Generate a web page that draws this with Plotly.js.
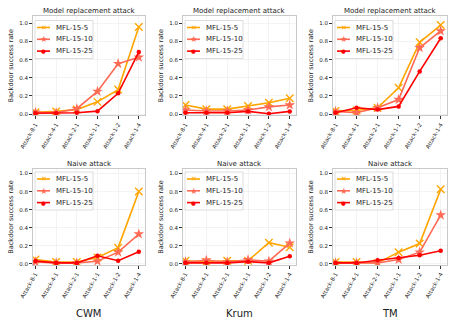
<!DOCTYPE html>
<html>
<head>
<meta charset="utf-8">
<script src="https://cdn.plot.ly/plotly-3.0.1.min.js"></script>
<style>
  body { margin: 0; padding: 0; background: #fff; }
  #myPlot { width: 458px; height: 327px; }
</style>
</head>
<body>
<div id="myPlot"></div>
<script>
// Categories and names
var attacks = ["Attack-8-1", "Attack-4-1", "Attack-2-1", "Attack-1-1", "Attack-1-2", "Attack-1-4"];
var seriesNames = ["MFL-15-5", "MFL-15-10", "MFL-15-25"];
var defenses = ["CWM", "Krum", "TM"];
var rowTitles = ["Model replacement attack", "Naive attack"];

// Model replacement attack
var cwmReplace5 = [0.02, 0.03, 0.05, 0.135, 0.27, 0.96];
var cwmReplace10 = [0.02, 0.015, 0.06, 0.25, 0.555, 0.625];
var cwmReplace25 = [0.01, 0.01, 0.015, 0.033, 0.23, 0.685];

var krumReplace5 = [0.10, 0.055, 0.055, 0.09, 0.125, 0.175];
var krumReplace10 = [0.045, 0.035, 0.035, 0.045, 0.08, 0.10];
var krumReplace25 = [0.015, 0.015, 0.015, 0.03, 0.005, 0.03];

var tmReplace5 = [0.035, 0.04, 0.07, 0.29, 0.79, 0.98];
var tmReplace10 = [0.03, 0.015, 0.07, 0.16, 0.73, 0.915];
var tmReplace25 = [0.015, 0.07, 0.05, 0.085, 0.47, 0.835];

// Naive attack
var cwmNaive5 = [0.048, 0.022, 0.022, 0.07, 0.18, 0.80];
var cwmNaive10 = [0.022, 0.011, 0.011, 0.03, 0.13, 0.33];
var cwmNaive25 = [0.033, 0.011, 0.011, 0.09, 0.035, 0.135];

var krumNaive5 = [0.035, 0.022, 0.035, 0.035, 0.235, 0.185];
var krumNaive10 = [0.022, 0.04, 0.022, 0.045, 0.03, 0.23];
var krumNaive25 = [0.012, 0.012, 0.012, 0.025, 0.012, 0.085];

var tmNaive5 = [0.02, 0.02, 0.011, 0.13, 0.225, 0.825];
var tmNaive10 = [0.011, 0.011, 0.011, 0.048, 0.13, 0.54];
var tmNaive25 = [0.011, 0.011, 0.04, 0.065, 0.095, 0.145];

var panels = [
    [cwmReplace5, cwmReplace10, cwmReplace25],
    [krumReplace5, krumReplace10, krumReplace25],
    [tmReplace5, tmReplace10, tmReplace25],
    [cwmNaive5, cwmNaive10, cwmNaive25],
    [krumNaive5, krumNaive10, krumNaive25],
    [tmNaive5, tmNaive10, tmNaive25]
];

var W = 458, H = 327;
var colors = ["#ffa500", "#ff6a55", "#ff0000"];
var markers = [
    { symbol: "x-thin-open", size: 7.5, line: { width: 1.4, color: colors[0] } },
    { symbol: "star", size: 8, line: { width: 0 } },
    { symbol: "circle", size: 4.5, line: { width: 0 } }
];
// glyphs used in the small legend boxes
var legendGlyphs = ["\u2715", "\u2605", "\u25CF"];
var legendGlyphSize = [7, 8.5, 5.5];

// panel boxes in pixels
var colX = [[33, 145], [183, 296], [333, 447]];
var rowY = [[16, 115.5], [169, 265]];
var legendTop = [20.5, 172];
var font = "DejaVu Sans, sans-serif";

function px(x) { return x / W; }
function py(y) { return 1 - y / H; }

var data = [];
var layout = {
    width: W, height: H,
    margin: { l: 0, r: 0, t: 0, b: 0 },
    paper_bgcolor: "#fff",
    plot_bgcolor: "#fff",
    font: { family: font, size: 6, color: "#222" },
    showlegend: false,
    annotations: [],
    shapes: []
};

for (var p = 0; p < 6; p++) {
    var row = Math.floor(p / 3), col = p % 3;
    var n = p + 1;
    var sfx = n === 1 ? "" : String(n);
    var xa = "x" + sfx, ya = "y" + sfx;
    for (var s = 0; s < 3; s++) {
        data.push({
            x: attacks, y: panels[p][s],
            xaxis: xa, yaxis: ya,
            name: seriesNames[s],
            mode: "lines+markers",
            line: { color: colors[s], width: 1.6 },
            marker: Object.assign({ color: colors[s] }, markers[s])
        });
    }
    var x0 = px(colX[col][0]), x1 = px(colX[col][1]);
    layout["xaxis" + sfx] = {
        domain: [x0, x1], anchor: ya, type: "category",
        range: [-0.12, 5.3],
        tickangle: -60, tickfont: { size: 5.5 },
        ticks: "outside", ticklen: 3, tickcolor: "#333",
        showgrid: true, gridcolor: "#ebebeb", gridwidth: 0.6,
        showline: true, linecolor: "#bbb", linewidth: 0.8, mirror: true,
        zeroline: false, automargin: false
    };
    layout["yaxis" + sfx] = {
        domain: [py(rowY[row][1]), py(rowY[row][0])], anchor: xa,
        range: row === 0 ? [-0.015, 1.08] : [-0.012, 1.05],
        tickvals: [0, 0.2, 0.4, 0.6, 0.8, 1.0], tickformat: ".1f",
        tickfont: { size: 5.5 },
        ticks: "outside", ticklen: 3, tickcolor: "#333",
        showgrid: true, gridcolor: "#ebebeb", gridwidth: 0.6,
        showline: true, linecolor: "#bbb", linewidth: 0.8, mirror: true,
        zeroline: false, automargin: false,
        title: { text: "Backdoor success rate", font: { size: 6.5 }, standoff: 4 }
    };
    layout.annotations.push({
        text: rowTitles[row], xref: "paper", yref: "paper",
        x: (x0 + x1) / 2, y: py(rowY[row][0] - 5.5),
        xanchor: "center", yanchor: "middle", showarrow: false,
        font: { size: 7, family: font, color: "#222" }
    });

    // legend box
    var lx = colX[col][0] + 2, ly = legendTop[row];
    layout.shapes.push({
        type: "rect", xref: "paper", yref: "paper",
        x0: px(lx), x1: px(lx + 58), y0: py(ly), y1: py(ly + 38),
        fillcolor: "rgba(255,255,255,0.85)",
        line: { color: "#d4d4d4", width: 0.8 }
    });
    for (var k = 0; k < 3; k++) {
        var ey = ly + 7 + k * 11.8;
        layout.shapes.push({
            type: "line", xref: "paper", yref: "paper",
            x0: px(lx + 2), x1: px(lx + 15), y0: py(ey), y1: py(ey),
            line: { color: colors[k], width: 1.6 }
        });
        layout.annotations.push({
            text: legendGlyphs[k], xref: "paper", yref: "paper",
            x: px(lx + 8.5), y: py(ey), xanchor: "center", yanchor: "middle",
            showarrow: false, font: { size: legendGlyphSize[k], family: font, color: colors[k] }
        });
        layout.annotations.push({
            text: seriesNames[k], xref: "paper", yref: "paper",
            x: px(lx + 19), y: py(ey), xanchor: "left", yanchor: "middle",
            showarrow: false, font: { size: 7, family: font, color: "#222" }
        });
    }
}

for (var c = 0; c < 3; c++) {
    layout.annotations.push({
        text: defenses[c], xref: "paper", yref: "paper",
        x: px((colX[c][0] + colX[c][1]) / 2), y: py(313),
        xanchor: "center", yanchor: "middle", showarrow: false,
        font: { size: 10, family: font, color: "#222" }
    });
}

Plotly.newPlot("myPlot", data, layout, { displayModeBar: false, staticPlot: true });
</script>
</body>
</html>
